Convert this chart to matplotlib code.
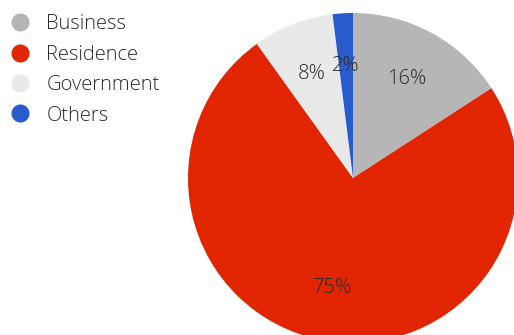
import matplotlib.pyplot as plt
from matplotlib.lines import Line2D

plt.rcParams['font.family'] = ['Open Sans', 'DejaVu Sans']
plt.rcParams['font.weight'] = 'light'

# share of usage by category
categories = ['Business', 'Residence', 'Government', 'Others']
shares = [16, 75, 8, 2]
colors = ['#b6b6b6', '#e12500', '#e9e9e9', '#2a5bcc']

fig = plt.figure(figsize=(5.14, 3.35), dpi=100)
ax = fig.add_axes([188 / 514, -8 / 335, 330 / 514, 330 / 335])

ax.pie(shares, colors=colors, startangle=90, counterclock=False,
       labels=['%d%%' % s for s in shares], labeldistance=0.68,
       textprops=dict(fontsize=14.5, color='#2b2b2b', va='center'),
       wedgeprops=dict(linewidth=0))
# keep the labels centred on their anchor points
for t in ax.texts:
    t.set_horizontalalignment('center')
ax.set_xlim(-1, 1)
ax.set_ylim(-1, 1)
ax.set_aspect('equal')
ax.axis('off')

handles = [Line2D([], [], marker='o', linestyle='', markersize=12,
                  markerfacecolor=c, markeredgecolor=c) for c in colors]
fig.legend(handles, categories, loc='upper left', bbox_to_anchor=(0.004, 0.982),
           frameon=False, fontsize=14.5, labelspacing=0.52, handlelength=1.0,
           handletextpad=0.8, borderpad=0.4, borderaxespad=0.0,
           labelcolor='#2b2b2b')

fig.savefig('out.png', dpi=100)
